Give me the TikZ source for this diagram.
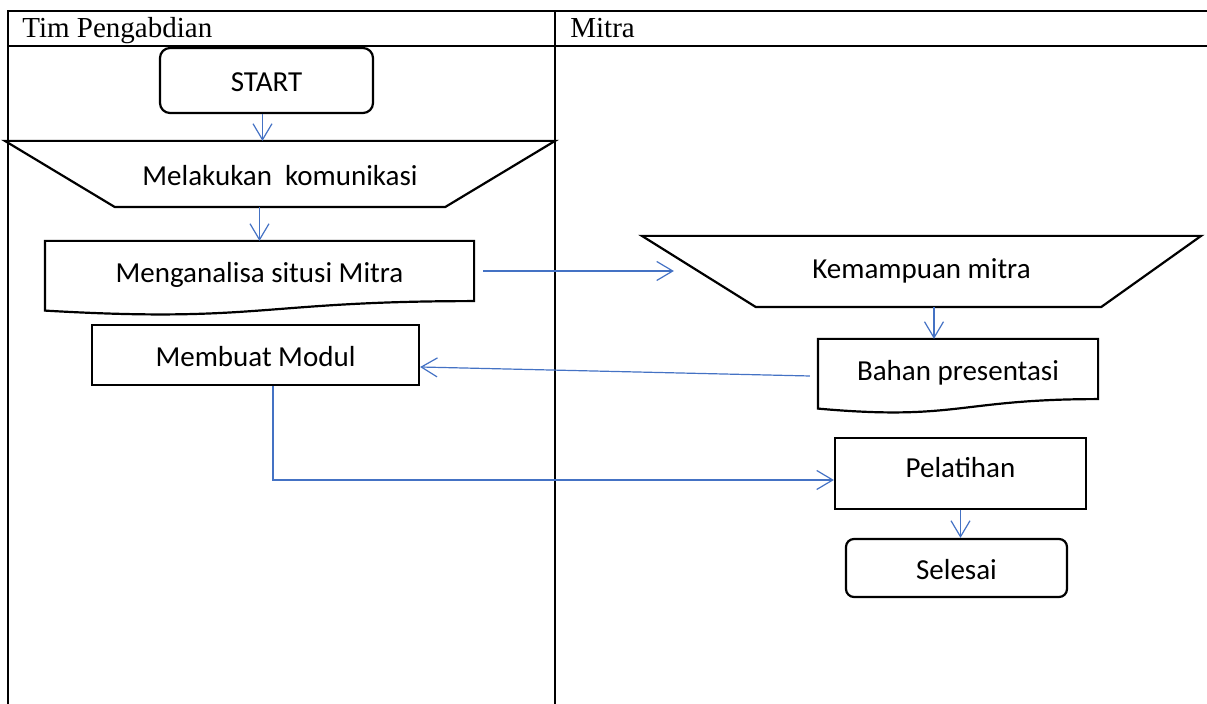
\documentclass[tikz,border=0pt]{standalone}
\usepackage{fontspec}
\setmainfont{Liberation Serif}
\newfontfamily\shapefont{Carlito}
\usetikzlibrary{arrows.meta,calc}
\definecolor{flowblue}{RGB}{68,114,196}
\tikzset{
  process/.style={draw, line width=1.1pt, inner sep=0pt, font=\shapefont\fontsize{14.5pt}{17pt}\selectfont, text height=13pt, text depth=1.5pt},
  terminal/.style={process, rounded corners=5pt},
  outline/.style={process, draw=none},
  shapeline/.style={line width=1.1pt},
  lane/.style={line width=1.3pt},
  lanetitle/.style={anchor=base west, inner sep=0pt, font=\fontsize{14.5pt}{17pt}\selectfont},
  flow/.style={draw=flowblue, line width=0.6pt, -{Straight Barb[length=8pt,width=9.5pt]}},
}
\begin{document}
\begin{tikzpicture}[x=0.5pt,y=-0.5pt]
  \useasboundingbox (0,0) rectangle (1207,704);
  \draw[lane] (8,704) -- (8,11) -- (1207,11);
  \draw[lane] (8,46) -- (1207,46);
  \draw[lane] (555,11) -- (555,704);
  \node[lanetitle] (tim) at (22,38) {Tim Pengabdian};
  \node[lanetitle] (mitra) at (570,38) {Mitra};

  \node[terminal, minimum width=106.5pt, minimum height=32.5pt] (start) at (266.5,80.5) {START};
  \node[outline, minimum width=274pt, minimum height=32pt] (komunikasi) at (280,174) {Melakukan~ komunikasi};
  \node[outline, minimum width=213.5pt, minimum height=29pt] (analisa) at (259.5,271) {Menganalisa situsi Mitra};
  \node[process, minimum width=163.5pt, minimum height=30pt] (modul) at (255.5,355) {Membuat Modul};
  \node[outline, minimum width=278.5pt, minimum height=34.5pt, text height=10.5pt, text depth=3pt] (kemampuan) at (921.5,271.5) {Kemampuan mitra};
  \node[outline, minimum width=139pt, minimum height=29pt] (bahan) at (958,369) {Bahan presentasi};
  \node[process, minimum width=125.5pt, minimum height=35.5pt, text height=10.5pt, text depth=6.7pt] (pelatihan) at (960.5,473.5) {Pelatihan};
  \node[terminal, rounded corners=4pt, minimum width=110.5pt, minimum height=29pt] (selesai) at (956.5,568) {Selesai};

  \draw[shapeline] (komunikasi.north west) -- (komunikasi.north east)
    -- ([xshift=-55pt]komunikasi.south east) -- ([xshift=55pt]komunikasi.south west) -- cycle;
  \draw[shapeline] (kemampuan.north west) -- (kemampuan.north east)
    -- ([xshift=-50pt]kemampuan.south east) -- ([xshift=57pt]kemampuan.south west) -- cycle;
  \draw[shapeline] (analisa.south east) -- (analisa.north east) -- (analisa.north west)
    -- ($(analisa.south west)+(0,9.5)$) .. controls ($(analisa.south)+(0,22)$) and (analisa.south) .. cycle;
  \draw[shapeline] (bahan.south east) -- (bahan.north east) -- (bahan.north west)
    -- ($(bahan.south west)+(0,9.5)$) .. controls ($(bahan.south)+(0,22)$) and (bahan.south) .. cycle;

  \begin{scope}
    \draw[flow] ([xshift=-2pt]start.south) -- ([xshift=-2pt]start.south |- komunikasi.north);
    \draw[flow] (komunikasi.south -| analisa.north) -- (analisa.north);
    \draw[flow] ([xshift=4.5pt]analisa.east) -- ([xshift=16pt]kemampuan.west |- analisa.east);
    \draw[flow] ([xshift=-12pt]bahan.north |- kemampuan.south) -- ([xshift=-12pt]bahan.north);
    \draw[flow] ([xshift=-4pt,yshift=-3.5pt]bahan.west) -- ([yshift=-6pt]modul.east);
    \draw[flow] ([xshift=8.75pt]modul.south) |- ([yshift=-3.25pt]pelatihan.west);
    \draw[flow] (pelatihan.south) -- (pelatihan.south |- selesai.north);
  \end{scope}
\end{tikzpicture}
\end{document}
